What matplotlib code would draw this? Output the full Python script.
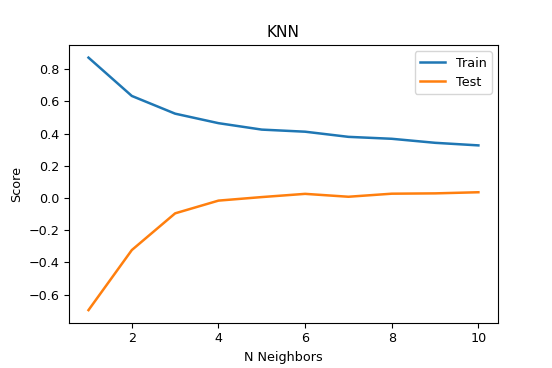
import matplotlib

matplotlib.use("Agg")
import matplotlib.pyplot as plt  # noqa: E402

# k values and scores
neighbors = [1, 2, 3, 4, 5, 6, 7, 8, 9, 10]
train_scores = [0.872, 0.634, 0.524, 0.465, 0.425, 0.412, 0.380, 0.368, 0.343, 0.327]
test_scores = [-0.696, -0.323, -0.095, -0.016, 0.006, 0.026, 0.008, 0.027, 0.029, 0.036]

plt.rcParams["font.size"] = 9.2
plt.rcParams["lines.linewidth"] = 1.8

fig = plt.figure(figsize=(5.52, 3.68), dpi=100)
ax = fig.add_axes([0.125, 0.123, 0.777, 0.7547])
ax.plot(neighbors, train_scores, label="Train")
ax.plot(neighbors, test_scores, label="Test")
ax.set_title("KNN")
ax.set_xlabel("N Neighbors")
ax.set_ylabel("Score")
ax.legend(loc="upper right")
fig.savefig("out.png", dpi=100)
